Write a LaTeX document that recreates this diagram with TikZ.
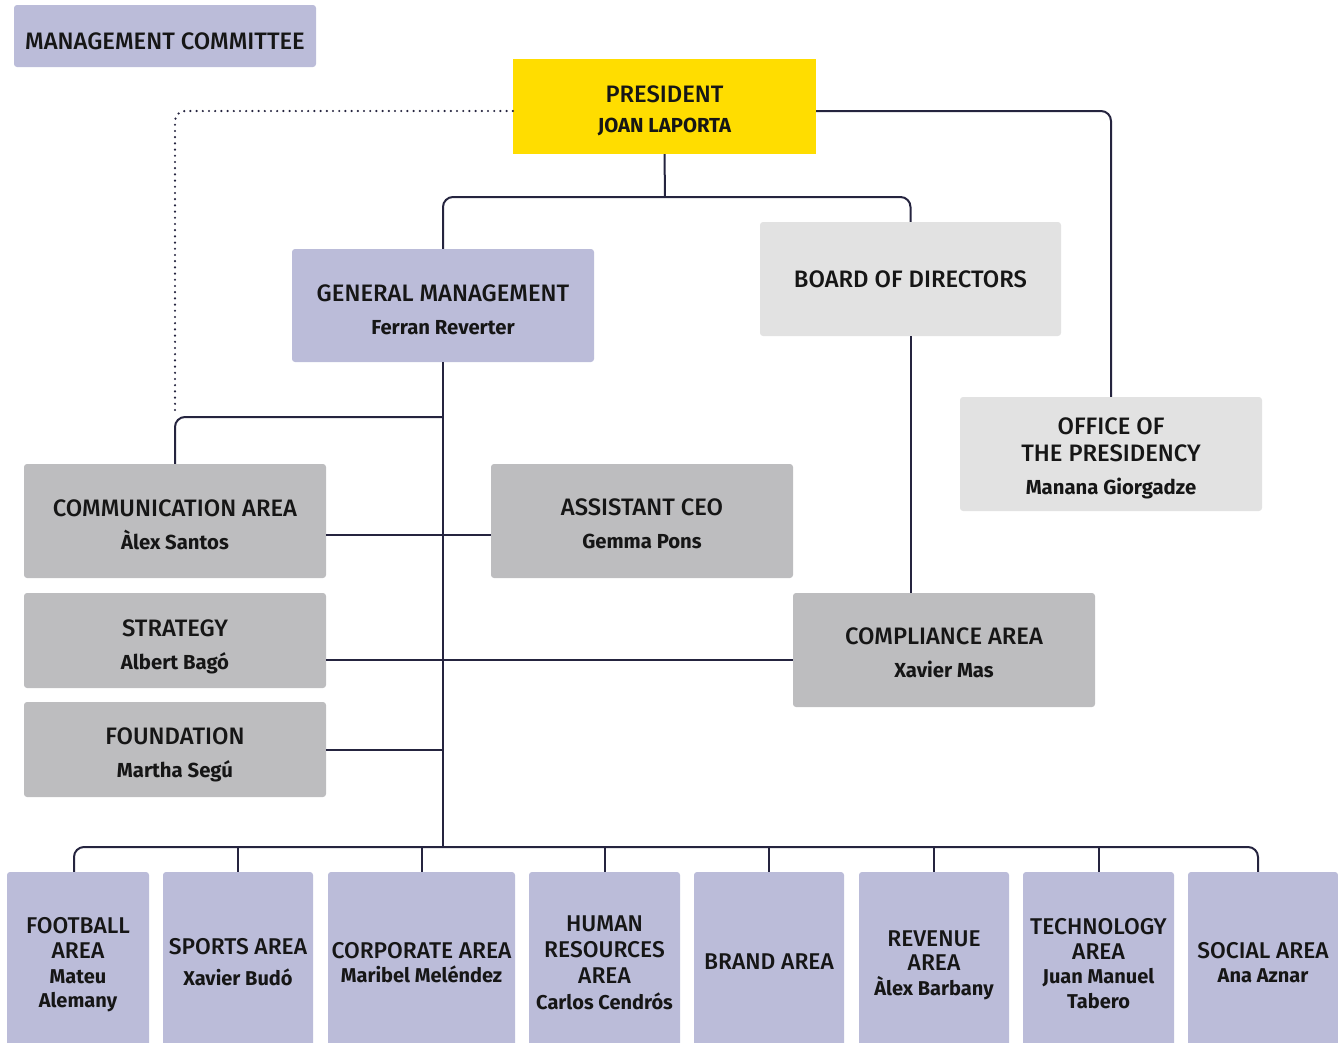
\documentclass[tikz,border=0pt]{standalone}
\usepackage{fontspec}
\setmainfont{Fira Sans}[UprightFont={* Medium}, BoldFont={* Bold}]
\definecolor{lav}{HTML}{BBBCD9}
\definecolor{yel}{HTML}{FFDD00}
\definecolor{lgray}{HTML}{E2E2E2}
\definecolor{mgray}{HTML}{BDBDBF}
\definecolor{ln}{HTML}{25243F}
\definecolor{txt}{HTML}{161616}
\newcommand\nm[1]{{\bfseries\fontsize{20.3}{33}\selectfont #1}}
\newcommand\bn[1]{{\bfseries\fontsize{20}{24.7}\selectfont #1}}
\newcommand\up[1]{\rule{0pt}{#1}}
\tikzset{
  box/.style={rectangle, rounded corners=3pt, inner sep=0pt, align=center, text=txt,
    font=\fontsize{23.8}{33}\selectfont},
  lavbox/.style={box, fill=lav},
  lgbox/.style={box, fill=lgray},
  mgbox/.style={box, fill=mgray},
  botbox/.style={box, fill=lav, minimum height=180, font=\fontsize{22.8}{24.7}\selectfont},
  conn/.style={draw=ln, line width=2pt, rounded corners=10pt},
  dotline/.style={draw=ln, line width=2.4pt, line cap=round, dash pattern=on 0pt off 6.2pt, rounded corners=10pt},
}
\begin{document}
\begin{tikzpicture}[x=1pt,y=-1pt]
\useasboundingbox (0,0) rectangle (1338,1042);
% top boxes
\node[lavbox, minimum width=302, minimum height=62] (mc) at (165,36) {\up{28pt}MANAGEMENT COMMITTEE};
\node[box, fill=yel, rounded corners=0pt, minimum width=303, minimum height=95] (pres) at (664.5,106.5) {\up{24.5pt}PRESIDENT\\[-3pt]\nm{JOAN LAPORTA}};
\node[lavbox, minimum width=302, minimum height=113] (gm) at (443,305.5) {\up{24.5pt}GENERAL MANAGEMENT\\\nm{Ferran Reverter}};
\node[lgbox, minimum width=301, minimum height=114] (bod) at (910.5,279) {BOARD OF DIRECTORS};
\node[lgbox, minimum width=302, minimum height=114, font=\fontsize{23.8}{27}\selectfont] (off) at (1111,454) {\up{26pt}OFFICE OF\\THE PRESIDENCY\\[6pt]\nm{Manana Giorgadze}};
\node[mgbox, minimum width=302, minimum height=114] (comm) at (175,521) {\up{24pt}COMMUNICATION AREA\\\nm{Àlex Santos}};
\node[mgbox, minimum width=302, minimum height=114] (ceo) at (642,521) {\up{22.5pt}ASSISTANT CEO\\\nm{Gemma Pons}};
\node[mgbox, minimum width=302, minimum height=95] (strat) at (175,640.5) {\up{29pt}STRATEGY\\\nm{Albert Bagó}};
\node[mgbox, minimum width=302, minimum height=114] (comp) at (944,650) {\up{23pt}COMPLIANCE AREA\\\nm{Xavier Mas}};
\node[mgbox, minimum width=302, minimum height=95] (found) at (175,749.5) {\up{27.5pt}FOUNDATION\\\nm{Martha Segú}};
% bottom boxes
\node[botbox, minimum width=142] (fb) at (78,962) {\up{22pt}FOOTBALL\\AREA\\\bn{Mateu}\\\bn{Alemany}};
\node[botbox, minimum width=150] (sp) at (238,962) {SPORTS AREA\\[7pt]\bn{Xavier Budó}};
\node[botbox, minimum width=187] (co) at (421.5,962) {\up{17.5pt}CORPORATE AREA\\\bn{Maribel Meléndez}};
\node[botbox, minimum width=151, font=\fontsize{22.8}{26}\selectfont] (hr) at (604.5,962) {\up{17.5pt}HUMAN\\RESOURCES\\AREA\\\bn{Carlos Cendrós}};
\node[botbox, minimum width=150] (br) at (769,962) {BRAND AREA};
\node[botbox, minimum width=150] (rv) at (934,962) {\up{22pt}REVENUE\\AREA\\\bn{Àlex Barbany}};
\node[botbox, minimum width=151] (te) at (1098.5,962) {\up{19.5pt}TECHNOLOGY\\AREA\\\bn{Juan Manuel}\\\bn{Tabero}};
\node[botbox, minimum width=150] (so) at (1263,962) {\up{17.5pt}SOCIAL AREA\\\bn{Ana Aznar}};
% junction coordinates
\coordinate (j1) at (665,197);
\coordinate (b1) at (443,417);
\coordinate (d1) at (175,414);
\coordinate (bus) at (443,847);
% connectors
\draw[conn] (pres.south) -- (j1);
\draw[conn] (gm.north) -- (gm.north |- j1) -- (bod.north |- j1) -- (bod.north);
\draw[conn] ([yshift=-4.5pt]pres.east) -| (off.north);
\draw[dotline] ([yshift=-4.5pt]pres.west) -| (d1);
\draw[conn] (gm.south) -- (bus);
\draw[conn] (b1) -| (comm.north);
\draw[conn] ([yshift=-14pt]comm.east) -- ([yshift=-14pt]ceo.west);
\draw[conn] ([yshift=-19.5pt]strat.east) -- ([yshift=-10pt]comp.west);
\draw[conn] (found.east) -- (found.east -| b1);
\draw[conn] (bod.south) -- (bod.south |- comp.north);
\draw[conn] ([xshift=-4pt]fb.north) |- (bus) -| ([xshift=-5pt]so.north);
\foreach \n in {sp,co,hr,br,rv,te} \draw[conn] (\n.north) -- (\n.north |- bus);
\end{tikzpicture}
\end{document}
